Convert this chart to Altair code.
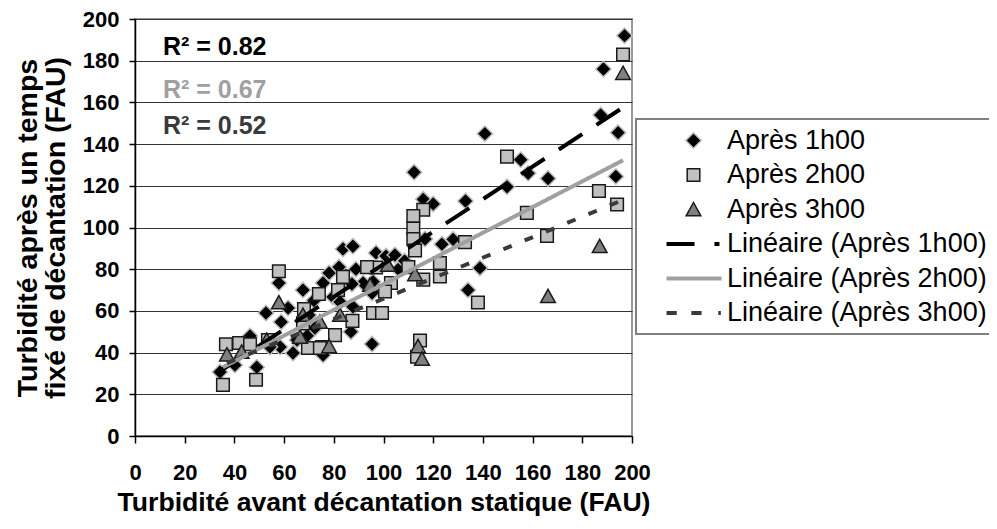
import altair as alt
import pandas as pd

series_names = ["Après 1h00", "Après 2h00", "Après 3h00"]
trend_names = ["Linéaire (Après 1h00)", "Linéaire (Après 2h00)", "Linéaire (Après 3h00)"]
r2_labels = ["R² = 0.82", "R² = 0.67", "R² = 0.52"]
r2_colors = ["#000000", "#a0a0a0", "#3a3a3a"]

s1_x = [197, 188.5, 187.4, 194.4, 193.5, 140.8, 155.2, 158.2, 166.2, 149.7,
        138.8, 134, 133, 112.3, 116, 120, 123.5, 128, 116.7, 83.7,
        87.7, 97, 101, 104.6, 78.1, 82.1, 88.9, 95.8, 91.8, 87.3,
        75.7, 79.7, 95.4, 87.7, 82.5, 95.4, 86.9, 75.7, 57.9, 67.6,
        61.6, 52.7, 58.8, 46.3, 58.4, 63.6, 65.2, 69.6, 72.4, 49,
        34.2, 40.2, 54.3, 106, 108.5, 72, 70]
s1_y = [192, 176, 154, 145.5, 124.5, 145, 132.5, 126, 123.5, 119.5,
        80.6, 70, 112.7, 126.5, 113.5, 111.3, 92, 94.3, 94.5, 89.7,
        91, 87.8, 86.3, 86.8, 78.2, 81, 80, 74, 73.4, 72.9,
        73.4, 66.7, 68.6, 62, 64.3, 44.1, 50, 38.8, 73.4, 70,
        61.4, 59, 54.7, 48, 42.7, 39.8, 46, 48.4, 51.8, 33,
        30.7, 34, 42.7, 80, 84, 65, 58]

s2_x = [196.4, 149.7, 186.7, 194, 157.7, 165.8, 138, 132.8, 122.7, 122.7,
        116, 116, 112, 112, 112, 112.7, 110, 97, 93.4, 103,
        100.6, 95.8, 99.4, 87.5, 83.7, 81.7, 74, 68, 80.5, 114.7,
        113.5, 75.3, 57.9, 36.6, 41.9, 46.3, 35.4, 48.7, 69.6, 74.4,
        53.5, 67.6]
s2_y = [183, 134, 117.5, 111, 107, 96, 64, 93, 83, 76.5,
        75, 108.5, 105.5, 99.5, 94.5, 89, 81, 80.8, 81, 73.4,
        69.3, 59, 59, 55.2, 76.3, 70, 68.1, 60.9, 48.4, 45.8,
        38, 42.7, 79, 44, 44.6, 44, 24.5, 27, 42.2, 42.2,
        46, 54]

s3_x = [196.4, 187, 166.2, 112.7, 113.9, 115.5, 94.6, 101.8, 82.5, 78.1,
        74.4, 57.9, 37, 42.9, 53, 66.4, 67.6]
s3_y = [174, 91, 67, 77.5, 43, 37, 72.4, 82, 58, 43,
        54.7, 64, 39, 40.3, 46, 47.5, 58]

rows = []
for name, xs, ys in zip(series_names, [s1_x, s2_x, s3_x], [s1_y, s2_y, s3_y]):
    for xv, yv in zip(xs, ys):
        rows.append({"x": xv, "y": yv, "series": name})
df = pd.DataFrame(rows)

domain = series_names + trend_names
shape_range = [
    "M0,-1.1L1.1,0L0,1.1L-1.1,0Z",
    "M-0.9,-0.9H0.9V0.9H-0.9Z",
    "M0,-1L1.05,0.9H-1.05Z",
    "M-3.75,-0.18H0.04V0.18H-3.75Z M3.1,-0.18H3.6V0.18H3.1Z",
    "M-3.75,-0.18H3.9V0.18H-3.75Z",
    "M-3.75,-0.18H-2.5V0.18H-3.75Z M-0.2,-0.18H1.05V0.18H-0.2Z M3.65,-0.18H3.8V0.18H3.65Z",
]
fill_range = ["#000000", "#c0c0c0", "#808080", "#000000", "#a0a0a0", "#3a3a3a"]
stroke_range = ["#bdbdbd", "#1a1a1a", "#1a1a1a", "#000000", "#a0a0a0", "#3a3a3a"]
dash_range = [[28, 17], [1, 0], [9, 14]]

FONT = "Liberation Sans"
ticks = list(range(0, 201, 20))
xscale = alt.Scale(domain=[0, 200], nice=False)
yscale = alt.Scale(domain=[0, 200], nice=False)

x_axis = alt.Axis(values=ticks, grid=False, title="Turbidité avant décantation statique (FAU)",
                  labelFlush=False, labelOverlap=False, tickSize=7, labelPadding=19,
                  titlePadding=6, titleFontSize=26.6, format="d")
y_axis = alt.Axis(values=ticks, grid=True, title=["Turbidité après un temps", "fixé de décantation (FAU)"],
                  labelFlush=False, labelOverlap=False, tickSize=6, labelPadding=10,
                  titlePadding=12, titleFontSize=28.5, titleLineHeight=28, format="d")

base = alt.Chart(df)

points = base.mark_point(filled=True, size=196, strokeWidth=1.5, opacity=1).encode(
    x=alt.X("x:Q", scale=xscale, axis=x_axis),
    y=alt.Y("y:Q", scale=yscale, axis=y_axis),
    shape=alt.Shape("series:N", scale=alt.Scale(domain=domain, range=shape_range), legend=alt.Legend(title=None)),
    fill=alt.Fill("series:N", scale=alt.Scale(domain=domain, range=fill_range), legend=alt.Legend(title=None)),
    stroke=alt.Stroke("series:N", scale=alt.Scale(domain=domain, range=stroke_range), legend=alt.Legend(title=None)),
)

lines = base.transform_regression("x", "y", groupby=["series"]).transform_calculate(
    trend="'Linéaire (' + datum.series + ')'"
).mark_line(strokeWidth=4, strokeCap="butt").encode(
    x=alt.X("x:Q", scale=xscale),
    y=alt.Y("y:Q", scale=yscale),
    stroke=alt.Stroke("trend:N", scale=alt.Scale(domain=domain, range=stroke_range), legend=alt.Legend(title=None)),
    strokeDash=alt.StrokeDash("trend:N", scale=alt.Scale(domain=trend_names, range=dash_range), legend=None),
)

r2_layers = []
for i, (lab, col) in enumerate(zip(r2_labels, r2_colors)):
    r2_layers.append(
        alt.Chart(pd.DataFrame({"t": [lab]})).mark_text(
            align="left", baseline="middle", font=FONT, fontSize=25, fontWeight="bold", color=col
        ).encode(x=alt.value(28), y=alt.value([28, 70.5, 107][i]), text="t:N")
    )

chart = alt.layer(points, lines, *r2_layers).properties(
    width=497, height=417,
    autosize=alt.AutoSizeParams(type="none"),
    padding={"left": 127, "top": 11, "right": 357, "bottom": 85},
).configure_view(
    stroke="#9a9a9a", strokeWidth=2
).configure_axis(
    labelFont=FONT, labelFontWeight="bold", labelFontSize=22, labelColor="black",
    titleFont=FONT, titleFontWeight="bold", titleFontSize=26, titleColor="black",
    domainColor="black", domainWidth=1.5, tickColor="black", tickWidth=1.5,
    gridColor="#333333", gridWidth=1,
).configure_legend(
    orient="none", legendX=501, legendY=100, padding=8,
    strokeColor="#808080", strokeWidth=2, fillColor="white", cornerRadius=0,
    labelFont=FONT, labelFontSize=27, labelColor="black", labelLimit=400,
    symbolSize=196, symbolStrokeWidth=1.5, symbolOffset=36, labelOffset=20,
    rowPadding=6.5,
)

chart.save("out.html", embed_options={"renderer": "svg", "actions": False})
